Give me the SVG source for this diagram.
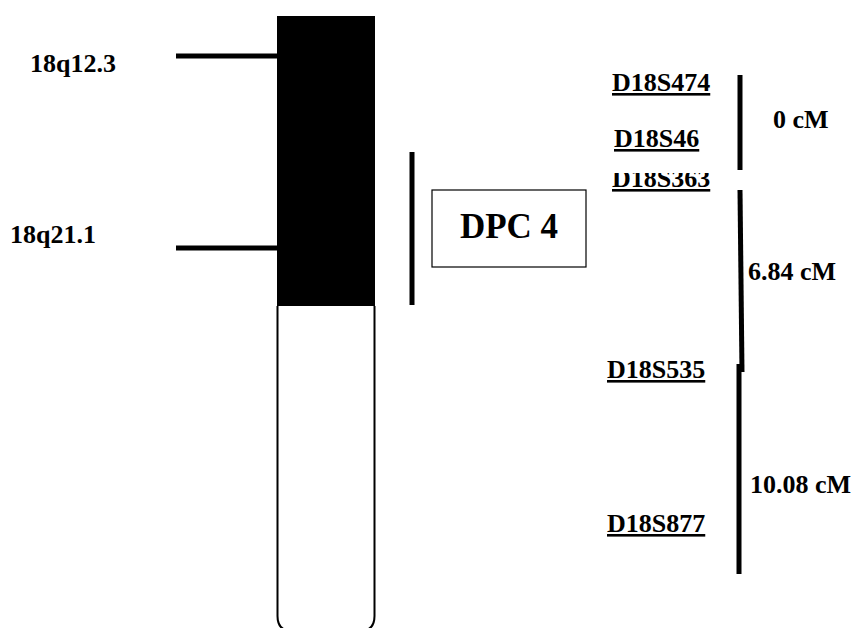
<svg xmlns="http://www.w3.org/2000/svg" width="856" height="628" viewBox="0 0 856 628">
<style>
text{font-family:"Liberation Serif","Times New Roman",serif;font-weight:bold;fill:#000}
.lbl{font-size:26px}
.mk{font-size:26px;text-decoration:underline}
.bar{stroke:#000;stroke-width:5;fill:none}
</style>
<defs>
<clipPath id="clip363"><rect x="600" y="173" width="150" height="30"/></clipPath>
</defs>
<rect width="856" height="628" fill="#fff"/>
<g id="chromosome">
<path d="M277.5,306 V616 Q277.5,631 292,631 H360 Q374.5,631 374.5,616 V306" fill="#fff" stroke="#000" stroke-width="2"/>
<rect x="277" y="16" width="98" height="290" fill="#000"/>
</g>
<g id="connectors">
<line class="bar" x1="176" y1="56" x2="278" y2="56"/>
<line class="bar" x1="176" y1="248" x2="278" y2="248"/>
<line class="bar" x1="412" y1="152" x2="412" y2="305"/>
<line class="bar" x1="740" y1="75" x2="740" y2="170"/>
<line class="bar" x1="740" y1="190" x2="742" y2="372"/>
<line class="bar" x1="739" y1="364" x2="739" y2="574"/>
</g>
<g id="band-18q12-3"><text class="lbl" x="30" y="72">18q12.3</text></g>
<g id="band-18q21-1"><text class="lbl" x="10" y="243">18q21.1</text></g>
<g id="dpc4">
<rect x="432" y="190" width="154" height="77" fill="#fff" stroke="#000" stroke-width="1.2"/>
<text x="509" y="238" font-size="35" text-anchor="middle">DPC 4</text>
</g>
<g id="D18S474"><text class="mk" x="612" y="91">D18S474</text></g>
<g id="D18S46"><text class="mk" x="614" y="147">D18S46</text></g>
<g id="D18S363"><text class="mk" x="612" y="187" clip-path="url(#clip363)">D18S363</text></g>
<g id="D18S535"><text class="mk" x="607" y="378">D18S535</text></g>
<g id="D18S877"><text class="mk" x="607" y="532">D18S877</text></g>
<g id="dist0"><text class="lbl" x="773" y="128">0 cM</text></g>
<g id="dist684"><text class="lbl" x="748" y="280">6.84 cM</text></g>
<g id="dist1008"><text class="lbl" x="750" y="493">10.08 cM</text></g>
</svg>
